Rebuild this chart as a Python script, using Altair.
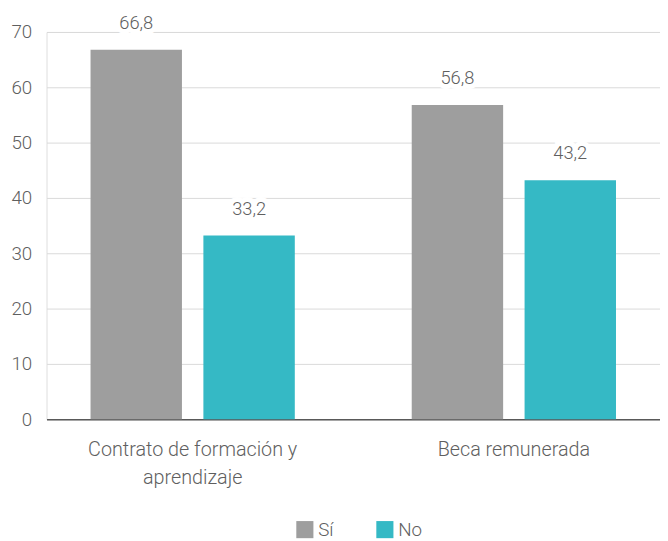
import altair as alt
import pandas as pd

categories = ["Contrato de formación y aprendizaje", "Beca remunerada"]
series = ["Sí", "No"]
si_values = [66.8, 56.8]
no_values = [33.2, 43.2]
colors = ["#9e9e9e", "#35b9c5"]

rows = []
for i, c in enumerate(categories):
    rows.append({"cat": c, "serie": "Sí", "valor": si_values[i]})
    rows.append({"cat": c, "serie": "No", "valor": no_values[i]})
df = pd.DataFrame(rows)

FONT = "Roboto"
GREY = "#5f5f5f"
FW = 300

x_enc = alt.X(
    "cat:N",
    sort=categories,
    title=None,
    scale=alt.Scale(paddingInner=0.35, paddingOuter=0.13),
    axis=alt.Axis(
        labelAngle=0,
        labelFontSize=20,
        labelColor=GREY,
        labelFont=FONT,
        labelFontWeight=FW,
        labelPadding=21,
        labelLineHeight=28,
        labelLimit=0,
        labelExpr="datum.value == 'Contrato de formación y aprendizaje' ? ['Contrato de formación y', 'aprendizaje'] : datum.value",
        ticks=False,
        domain=True,
        domainColor="#595959",
        domainWidth=1.5,
        grid=False,
    ),
)
xo_enc = alt.XOffset("serie:N", sort=series, scale=alt.Scale(paddingInner=0.19, paddingOuter=0.02))
y_enc = alt.Y(
    "valor:Q",
    title=None,
    scale=alt.Scale(domain=[0, 70]),
    axis=alt.Axis(
        values=[0, 10, 20, 30, 40, 50, 60, 70],
        labelFontSize=19,
        labelColor=GREY,
        labelFont=FONT,
        labelFontWeight=FW,
        labelPadding=15,
        ticks=False,
        domain=False,
        gridColor="#d9d9d9",
        gridWidth=1,
    ),
)

base = alt.Chart(df)

bars = base.mark_bar().encode(
    x=x_enc,
    xOffset=xo_enc,
    y=y_enc,
    color=alt.Color(
        "serie:N",
        sort=series,
        scale=alt.Scale(domain=series, range=colors),
        legend=alt.Legend(
            title=None,
            orient="none",
            direction="horizontal",
            legendX=252,
            legendY=494,
            symbolType="square",
            symbolSize=300,
            symbolStrokeWidth=0,
            labelFontSize=19,
            labelFont=FONT,
            labelFontWeight=FW,
            labelColor=GREY,
            labelOffset=4,
            columnPadding=42,
        ),
    ),
)

labels_df = base.transform_calculate(
    lab="replace(format(datum.valor, '.1f'), '.', ',')"
)

halo = labels_df.mark_text(
    dy=-27, baseline="middle", fontSize=18.5, font=FONT, fontWeight=FW, color="white",
    stroke="white", strokeWidth=10,
).encode(x=alt.X("cat:N", sort=categories), xOffset=alt.XOffset("serie:N", sort=series), y="valor:Q", text="lab:N")

text = labels_df.mark_text(
    dy=-27, baseline="middle", fontSize=18.5, font=FONT, fontWeight=FW, color=GREY,
).encode(x=alt.X("cat:N", sort=categories), xOffset=alt.XOffset("serie:N", sort=series), y="valor:Q", text="lab:N")

chart = (
    alt.layer(bars, halo, text)
    .properties(
        width=621,
        height=392,
        autosize=alt.AutoSizeParams(type="none"),
        padding={"left": 39, "top": 21, "right": 0, "bottom": 120},
    )
    .configure_view(stroke=None)
    .configure(background="white")
)

chart.save("out.html", embed_options={"renderer": "svg", "actions": False})
